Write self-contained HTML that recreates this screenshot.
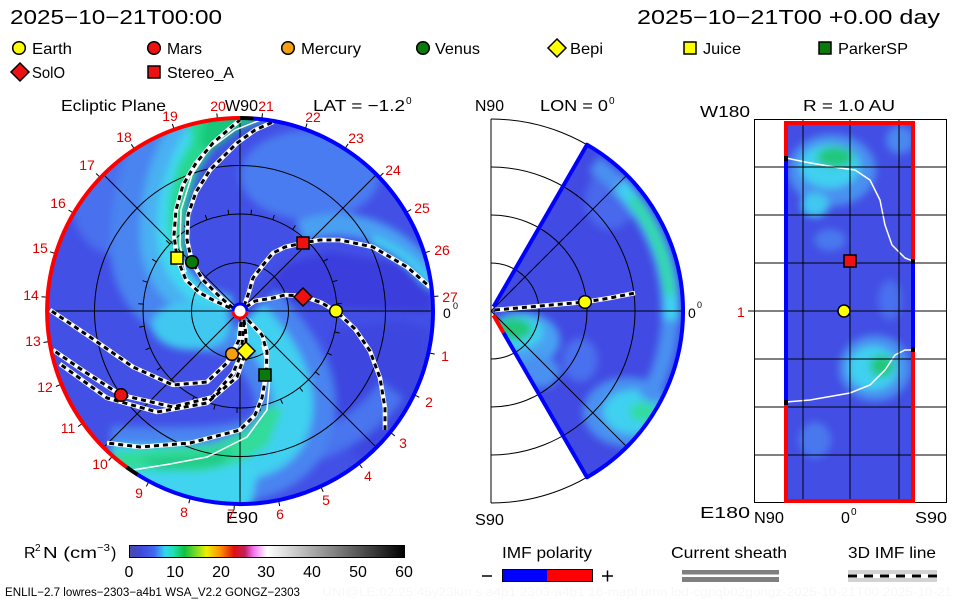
<!DOCTYPE html>
<html><head><meta charset="utf-8"><style>html,body{margin:0;padding:0;background:#fff}svg{display:block}</style></head>
<body>
<svg xmlns="http://www.w3.org/2000/svg" width="960" height="600" viewBox="0 0 960 600" font-family="'Liberation Sans', sans-serif">
<defs>
 <clipPath id="cL"><circle cx="240" cy="311" r="192"/></clipPath>
 <clipPath id="cM"><path d="M493.5 306.7 L587 144.7 A192 192 0 0 1 587 477.3 L493.5 315.3 Z"/></clipPath>
 <clipPath id="cR"><rect x="786" y="123" width="127" height="378"/></clipPath>
 <filter id="bl" x="-30%" y="-30%" width="160%" height="160%"><feGaussianBlur stdDeviation="4"/></filter>
 <linearGradient id="cb" x1="0" x2="1" y1="0" y2="0">
  <stop offset="0" stop-color="#4a4aa8"/>
  <stop offset="0.04" stop-color="#4048d8"/>
  <stop offset="0.09" stop-color="#4068f0"/>
  <stop offset="0.13" stop-color="#30d8f0"/>
  <stop offset="0.16" stop-color="#20e0b0"/>
  <stop offset="0.20" stop-color="#10c040"/>
  <stop offset="0.25" stop-color="#90e020"/>
  <stop offset="0.28" stop-color="#f0f000"/>
  <stop offset="0.33" stop-color="#ff9000"/>
  <stop offset="0.38" stop-color="#e01010"/>
  <stop offset="0.42" stop-color="#c02060"/>
  <stop offset="0.45" stop-color="#f070f0"/>
  <stop offset="0.50" stop-color="#ffffff"/>
  <stop offset="1" stop-color="#000000"/>
 </linearGradient>
</defs>
<rect width="960" height="600" fill="#fff"/>

<!-- Titles -->
<text x="10" y="24" font-size="20" textLength="212" lengthAdjust="spacingAndGlyphs">2025−10−21T00:00</text>
<text x="637" y="24" font-size="20" textLength="303" lengthAdjust="spacingAndGlyphs">2025−10−21T00 +0.00 day</text>

<!-- Legend -->
<g stroke="#000" stroke-width="1.5">
 <circle cx="19" cy="48" r="6.3" fill="#ffff00"/>
 <circle cx="154" cy="48" r="6.3" fill="#ee1111"/>
 <circle cx="288" cy="48" r="6.3" fill="#f5a010"/>
 <circle cx="423" cy="48" r="6.3" fill="#0a7a0a"/>
 <polygon points="557,39 566,48 557,57 548,48" fill="#ffff00"/>
 <rect x="684" y="42" width="12" height="12" fill="#ffff00"/>
 <rect x="819" y="42" width="12" height="12" fill="#0a7a0a"/>
 <polygon points="20,63 29,72 20,81 11,72" fill="#ee1111"/>
 <rect x="148" y="66" width="12" height="12" fill="#ee1111"/>
</g>
<g font-size="16">
 <text x="32" y="54" textLength="40" lengthAdjust="spacingAndGlyphs">Earth</text>
 <text x="167" y="54" textLength="35" lengthAdjust="spacingAndGlyphs">Mars</text>
 <text x="301" y="54" textLength="60" lengthAdjust="spacingAndGlyphs">Mercury</text>
 <text x="435" y="54" textLength="45" lengthAdjust="spacingAndGlyphs">Venus</text>
 <text x="570" y="54" textLength="33" lengthAdjust="spacingAndGlyphs">Bepi</text>
 <text x="703" y="54" textLength="38" lengthAdjust="spacingAndGlyphs">Juice</text>
 <text x="838" y="54" textLength="70" lengthAdjust="spacingAndGlyphs">ParkerSP</text>
 <text x="32" y="78" textLength="33" lengthAdjust="spacingAndGlyphs">SolO</text>
 <text x="167" y="78" textLength="67" lengthAdjust="spacingAndGlyphs">Stereo_A</text>
</g>

<!-- ================= LEFT PLOT ================= -->
<g clip-path="url(#cL)">
 <rect x="40" y="110" width="400" height="410" fill="#4250e6"/>
 <g filter="url(#bl)">
  <polygon points="258,300 285,265 330,252 400,264 432,292 432,312 340,308" fill="#3a3edc"/>
  <polygon points="330,330 400,320 432,330 425,420 380,470 330,440" fill="#3e46e0"/>
  <ellipse cx="310" cy="175" rx="70" ry="45" fill="#4a7cf0"/>
  <ellipse cx="115" cy="195" rx="45" ry="60" fill="#4870ee"/>
  <path d="M300 232 C340 216 390 224 432 278" stroke="#4aa0f2" stroke-width="22" fill="none"/>
  <path d="M372 240 C398 250 418 265 434 287" stroke="#40d0f0" stroke-width="9" fill="none"/>
  <path d="M300 452 C340 440 370 420 392 390" stroke="#4874ee" stroke-width="28" fill="none"/>
  <!-- upper arm -->
  <path d="M180 120 C150 160 140 205 140 245 C140 285 165 318 228 325" stroke="#4a84f0" stroke-width="60" fill="none"/>
  <path d="M195 120 C168 155 158 195 158 235 C158 270 178 300 228 314" stroke="#48b0f2" stroke-width="36" fill="none"/>
  <path d="M205 120 C182 150 168 190 167 228 C166 262 184 292 228 310" stroke="#40d8f0" stroke-width="20" fill="none"/>
  <ellipse cx="192" cy="326" rx="40" ry="24" fill="#40c8f0"/>
  <polygon points="188,120 272,116 240,128 215,145 198,170 188,200 184,235 186,258 176,255 168,225 170,195 178,165 192,140" fill="#28d890"/>
  <polygon points="205,116 258,116 235,132 212,150 200,145" fill="#18c878"/>
  <!-- lower arm -->
  <path d="M248 318 C275 345 305 385 292 425 S230 470 110 466" stroke="#4a84f0" stroke-width="80" fill="none"/>
  <path d="M248 318 C275 345 302 385 290 425 S230 468 110 464" stroke="#40d0f0" stroke-width="40" fill="none"/>
  <polygon points="110,452 160,448 215,444 250,428 268,405 282,410 268,445 230,468 180,476 125,474" fill="#30dc9a"/>
  <polygon points="120,470 200,472 245,462 258,470 250,510 170,510 120,495" fill="#40d4f0"/>
  <polygon points="140,458 200,455 235,448 220,466 160,470" fill="#20cc88"/>
 </g>
</g>

<!-- grid left -->
<g fill="none" stroke="#000" stroke-width="1">
 <circle cx="240" cy="311" r="48.5"/>
 <circle cx="240" cy="311" r="97"/>
 <circle cx="240" cy="311" r="145.5"/>
 <line x1="47" y1="311" x2="433" y2="311"/>
 <line x1="240" y1="118" x2="240" y2="504"/>
 <line x1="104" y1="175" x2="376" y2="447"/>
 <line x1="104" y1="447" x2="376" y2="175"/>
 <path d="M434.7 354.1L428.4 352.8M413.9 394.7L419.3 397.3M390.2 432.2L394.9 436.0M358.6 463.3L362.2 468.0M320.7 486.3L323.2 491.8M278.5 500.1L279.7 506.0M234.3 503.9L234.1 509.9M190.4 497.5L188.8 503.3M149.1 481.2L146.3 486.5M112.6 456.0L108.7 460.5M82.9 423.1L78.0 426.6M61.4 384.2L55.9 386.5M49.4 341.5L43.5 342.5M47.5 297.2L41.5 296.8M55.7 253.6L50.0 251.8M73.7 213.1L68.5 210.0M100.5 177.7L96.1 173.5M134.6 149.3L131.3 144.3M174.3 129.5L172.3 123.9M217.5 119.3L216.8 113.4M261.8 119.2L262.5 113.3M305.1 129.3L307.1 123.6M344.8 149.0L348.1 143.9M379.1 177.2L383.4 173.0M406.0 212.5L411.1 209.4M424.1 253.0L429.8 251.2M432.5 296.5L438.4 296.1"/>
 <path d="M334.7 332.0L339.6 333.1M327.4 353.1L331.9 355.2M315.5 371.9L319.4 375.1M299.6 387.5L302.7 391.5M280.5 399.1L282.6 403.7M259.3 406.1L260.3 411.0M237.1 408.0L237.0 413.0M215.1 404.7L213.8 409.6M194.3 396.6L192.0 401.0M176.0 383.9L172.7 387.6M161.0 367.3L157.0 370.2M150.3 347.8L145.6 349.7M144.2 326.3L139.3 327.1M143.3 304.1L138.3 303.7M147.4 282.2L142.6 280.7M156.4 261.8L152.1 259.2M169.9 244.0L166.3 240.5M187.0 229.7L184.3 225.6M207.0 219.8L205.3 215.1M228.7 214.7L228.1 209.7M251.0 214.6L251.5 209.7M272.7 219.7L274.4 215.0M292.7 229.6L295.4 225.4M309.9 243.7L313.5 240.3M323.4 261.5L327.7 258.9M332.5 281.8L337.3 280.3M336.7 303.7L341.7 303.4"/>
</g>

<!-- current sheath white lines left -->
<g fill="none" stroke="#fff" stroke-width="1.5">
 <polyline points="133,470 170,464 207,457 247,437 267,410 270,377 262,345"/>
 <polyline points="268,117 235,130 208,150 192,175 181,210 180,245 186,272"/>
</g>

<!-- dashed field lines left -->
<g fill="none" stroke-linejoin="round">
 <g stroke="#fff" stroke-width="4.5">
  <polyline points="246,307 255,301 273,298 285,295 303,296 322,303 337,312 355,329 370,351 380,378 385,408 385,430"/>
  <polyline points="244,306 248,295 253,278 263,265 273,253 285,247 303,243 320,240 340,240 373,247 407,267 430,287"/>
  <polyline points="230,308 213,300 200,293 186,280 177,258 174,235 176,210 183,185 196,163 213,143 228,130 240,120"/>
  <polyline points="233,308 220,297 203,280 192,262 187,240 188,215 196,192 210,170 225,155 237,143 255,130 273,122"/>
  <polyline points="241,322 239,340 232,354 227,363 207,382 173,385 133,367 90,337 50,310"/>
  <polyline points="244,322 242,345 240,357 233,373 213,397 173,407 121,395 85,372 53,350"/>
  <polyline points="244,320 246,335 246,351 237,377 207,403 157,412 107,398 60,364"/>
  <polyline points="248,320 262,335 267,352 266,375 262,398 255,415 240,430 190,443 140,447 107,443"/>
 </g>
 <g stroke="#000" stroke-width="3" stroke-dasharray="5 4">
  <polyline points="246,307 255,301 273,298 285,295 303,296 322,303 337,312 355,329 370,351 380,378 385,408 385,430"/>
  <polyline points="244,306 248,295 253,278 263,265 273,253 285,247 303,243 320,240 340,240 373,247 407,267 430,287"/>
  <polyline points="230,308 213,300 200,293 186,280 177,258 174,235 176,210 183,185 196,163 213,143 228,130 240,120"/>
  <polyline points="233,308 220,297 203,280 192,262 187,240 188,215 196,192 210,170 225,155 237,143 255,130 273,122"/>
  <polyline points="241,322 239,340 232,354 227,363 207,382 173,385 133,367 90,337 50,310"/>
  <polyline points="244,322 242,345 240,357 233,373 213,397 173,407 121,395 85,372 53,350"/>
  <polyline points="244,320 246,335 246,351 237,377 207,403 157,412 107,398 60,364"/>
  <polyline points="248,320 262,335 267,352 266,375 262,398 255,415 240,430 190,443 140,447 107,443"/>
 </g>
</g>

<!-- outline left -->
<g fill="none" stroke-width="4">
 <path d="M240 118 A193 193 0 0 0 126.6 467.1" stroke="#ff0000"/>
 <path d="M126.6 467.1 A193 193 0 0 0 137.7 474.7" stroke="#000"/>
 <path d="M137.7 474.7 A193 193 0 1 0 253.5 118.5" stroke="#0000ff"/>
 <path d="M253.5 118.5 A193 193 0 0 0 240 118" stroke="#000"/>
</g>

<!-- Sun -->
<circle cx="240" cy="311" r="7" fill="#fff"/>
<path d="M233 311 A7 7 0 0 1 247 311" fill="none" stroke="#0000ff" stroke-width="3"/>
<path d="M247 311 A7 7 0 0 1 233 311" fill="none" stroke="#ff0000" stroke-width="3"/>

<!-- markers left -->
<g stroke="#000" stroke-width="1.5">
 <rect x="297" y="237" width="12" height="12" fill="#ee1111"/>
 <polygon points="303,288 312,297 303,306 294,297" fill="#ee1111"/>
 <circle cx="336" cy="311" r="6.3" fill="#ffff00"/>
 <rect x="171" y="252" width="12" height="12" fill="#ffff00"/>
 <circle cx="192" cy="262" r="6.3" fill="#0a7a0a"/>
 <circle cx="232" cy="354" r="6.3" fill="#f5a010"/>
 <polygon points="246,342 255,351 246,360 237,351" fill="#ffff00"/>
 <rect x="259" y="369" width="12" height="12" fill="#0a7a0a"/>
 <circle cx="121" cy="395" r="6.3" fill="#ee1111"/>
</g>

<!-- labels left -->
<text x="61" y="111" font-size="16" textLength="105" lengthAdjust="spacingAndGlyphs">Ecliptic Plane</text>
<text x="225" y="111" font-size="16" textLength="33" lengthAdjust="spacingAndGlyphs">W90</text>
<text x="313" y="111" font-size="16" textLength="92" lengthAdjust="spacingAndGlyphs">LAT = −1.2</text>
<text x="406" y="104" font-size="10">0</text>
<text x="226" y="523" font-size="16" textLength="32" lengthAdjust="spacingAndGlyphs">E90</text>
<text x="443" y="318" font-size="14">0</text>
<text x="453" y="309" font-size="9">0</text>
<g font-size="14" fill="#dd0000" text-anchor="middle">
 <text x="445" y="361">1</text>
 <text x="429" y="407">2</text>
 <text x="403" y="448">3</text>
 <text x="368" y="481">4</text>
 <text x="326" y="505">5</text>
 <text x="280" y="519">6</text>
 <text x="231" y="519">7</text>
 <text x="184" y="517">8</text>
 <text x="139" y="498">9</text>
 <text x="100" y="469">10</text>
 <text x="68" y="433">11</text>
 <text x="45" y="392">12</text>
 <text x="33" y="346">13</text>
 <text x="31" y="300">14</text>
 <text x="40" y="253">15</text>
 <text x="58" y="208">16</text>
 <text x="87" y="170">17</text>
 <text x="124" y="142">18</text>
 <text x="170" y="121">19</text>
 <text x="218" y="111">20</text>
 <text x="266" y="111">21</text>
 <text x="313" y="122">22</text>
 <text x="356" y="143">23</text>
 <text x="393" y="175">24</text>
 <text x="422" y="213">25</text>
 <text x="442" y="255">26</text>
 <text x="450" y="302">27</text>
</g>

<!-- ================= MIDDLE PLOT ================= -->
<g clip-path="url(#cM)">
 <rect x="480" y="110" width="220" height="400" fill="#414ae2"/>
 <g filter="url(#bl)">
  <ellipse cx="522" cy="340" rx="38" ry="28" fill="#48a0f2"/>
  <ellipse cx="517" cy="332" rx="26" ry="17" fill="#40d0f0"/>
  <ellipse cx="514" cy="329" rx="18" ry="11" fill="#20c878"/>
  <ellipse cx="540" cy="372" rx="20" ry="16" fill="#4890f0"/>
  <ellipse cx="580" cy="360" rx="18" ry="22" fill="#4870ee"/>
  <ellipse cx="628" cy="412" rx="45" ry="35" fill="#4890f0"/>
  <ellipse cx="633" cy="412" rx="30" ry="22" fill="#40d0f0"/>
  <ellipse cx="643" cy="412" rx="13" ry="10" fill="#30dca0"/>
  <ellipse cx="610" cy="200" rx="25" ry="30" fill="#4868ec"/>
  <path d="M647 400 A180 180 0 0 0 594 164" stroke="#4890f0" stroke-width="18" fill="none"/>
  <path d="M671 320 A180 180 0 0 0 620 185" stroke="#40d0f0" stroke-width="16" fill="none"/>
  <path d="M670 295 A180 180 0 0 0 632 198" stroke="#30d8a0" stroke-width="10" fill="none"/>
 </g>
</g>
<g fill="none" stroke="#000" stroke-width="1">
 <path d="M491 263 A48 48 0 0 1 491 359"/>
 <path d="M491 215 A96 96 0 0 1 491 407"/>
 <path d="M491 167 A144 144 0 0 1 491 455"/>
 <path d="M491 119 A192 192 0 0 1 491 503"/>
 <line x1="491" y1="119" x2="491" y2="503"/>
 <line x1="491" y1="311" x2="683" y2="311"/>
 <line x1="491" y1="311" x2="626.8" y2="175.2"/>
 <line x1="491" y1="311" x2="626.8" y2="446.8"/>
</g>
<path d="M493.5 306.7 L587 144.7 A192 192 0 0 1 587 477.3 L503.5 332.7" fill="none" stroke="#0000ff" stroke-width="4" stroke-linejoin="round"/>
<path d="M503.5 332.7 L493.5 315.3" fill="none" stroke="#ff0000" stroke-width="4"/>
<polyline points="495,310 540,306 585,302 610,298 635,293" fill="none" stroke="#fff" stroke-width="4.5"/>
<polyline points="495,310 540,306 585,302 610,298 635,293" fill="none" stroke="#000" stroke-width="3" stroke-dasharray="5 4"/>
<circle cx="585" cy="302" r="6.3" fill="#ffff00" stroke="#000" stroke-width="1.5"/>
<text x="475" y="111" font-size="16" textLength="29" lengthAdjust="spacingAndGlyphs">N90</text>
<text x="540" y="111" font-size="16" textLength="68" lengthAdjust="spacingAndGlyphs">LON = 0</text>
<text x="609" y="104" font-size="10">0</text>
<text x="475" y="525" font-size="16" textLength="29" lengthAdjust="spacingAndGlyphs">S90</text>
<text x="688" y="318" font-size="14">0</text>
<text x="697" y="308" font-size="9">0</text>

<!-- ================= RIGHT PLOT ================= -->
<g clip-path="url(#cR)">
 <rect x="780" y="118" width="140" height="390" fill="#424ee4"/>
 <g filter="url(#bl)">
  <ellipse cx="832" cy="170" rx="44" ry="36" fill="#4890f0"/>
  <ellipse cx="830" cy="166" rx="30" ry="22" fill="#40d0f0"/>
  <ellipse cx="835" cy="157" rx="18" ry="10" fill="#20c878"/>
  <ellipse cx="815" cy="205" rx="14" ry="12" fill="#40c8f0"/>
  <ellipse cx="900" cy="140" rx="14" ry="14" fill="#4a88f0"/>
  <ellipse cx="875" cy="368" rx="36" ry="33" fill="#4890f0"/>
  <ellipse cx="873" cy="368" rx="25" ry="22" fill="#40d0f0"/>
  <ellipse cx="882" cy="366" rx="12" ry="11" fill="#20c878"/>
  <ellipse cx="815" cy="440" rx="16" ry="18" fill="#4878ee"/>
  <ellipse cx="890" cy="300" rx="12" ry="20" fill="#4870ee"/>
  <ellipse cx="830" cy="240" rx="16" ry="11" fill="#4a78ee"/>
 </g>
 <polyline points="786,158 805,162 840,168 855,170 870,180 880,200 885,225 892,245 905,258 913,261" fill="none" stroke="#fff" stroke-width="1.5"/>
 <polyline points="786,402 810,400 850,393 870,385 885,370 895,355 905,350 913,350" fill="none" stroke="#fff" stroke-width="1.5"/>
</g>
<g fill="none" stroke="#000" stroke-width="1">
 <rect x="754.5" y="119.5" width="192" height="383"/>
 <line x1="803" y1="119" x2="803" y2="503"/>
 <line x1="850" y1="119" x2="850" y2="503"/>
 <line x1="899" y1="119" x2="899" y2="503"/>
 <line x1="754" y1="167" x2="947" y2="167"/>
 <line x1="754" y1="215" x2="947" y2="215"/>
 <line x1="754" y1="263" x2="947" y2="263"/>
 <line x1="748" y1="311" x2="947" y2="311"/>
 <line x1="754" y1="359" x2="947" y2="359"/>
 <line x1="754" y1="407" x2="947" y2="407"/>
 <line x1="754" y1="455" x2="947" y2="455"/>
</g>
<g fill="none" stroke-width="4">
 <path d="M786 158 L786 123 L913 123 L913 261" stroke="#ff0000"/>
 <path d="M913 350 L913 501 L786 501 L786 402" stroke="#ff0000"/>
 <path d="M786 160 L786 400" stroke="#0000ff"/>
 <path d="M913 263 L913 348" stroke="#0000ff"/>
 <path d="M786 156 L786 161 M786 400 L786 405 M913 259 L913 264 M913 347 L913 352" stroke="#000"/>
</g>
<rect x="844" y="255" width="12" height="12" fill="#ee1111" stroke="#000" stroke-width="1.5"/>
<circle cx="844" cy="311" r="6" fill="#ffff00" stroke="#000" stroke-width="1.5"/>
<text x="803" y="111" font-size="16" textLength="92" lengthAdjust="spacingAndGlyphs">R = 1.0 AU</text>
<text x="700" y="117" font-size="16" textLength="50" lengthAdjust="spacingAndGlyphs">W180</text>
<text x="700" y="518" font-size="16" textLength="50" lengthAdjust="spacingAndGlyphs">E180</text>
<text x="754" y="523" font-size="16" textLength="30" lengthAdjust="spacingAndGlyphs">N90</text>
<text x="841" y="523" font-size="16">0</text>
<text x="851" y="515" font-size="10">0</text>
<text x="915" y="523" font-size="16" textLength="32" lengthAdjust="spacingAndGlyphs">S90</text>
<text x="737" y="317" font-size="14" fill="#dd0000">1</text>

<!-- ================= BOTTOM ================= -->
<text x="24" y="558" font-size="16">R</text>
<text x="35" y="551" font-size="10">2</text>
<text x="43" y="558" font-size="16" textLength="54" lengthAdjust="spacingAndGlyphs">N (cm</text>
<text x="97" y="551" font-size="10" textLength="13" lengthAdjust="spacingAndGlyphs">−3</text>
<text x="111" y="558" font-size="16">)</text>
<rect x="129.5" y="545.5" width="275" height="12" fill="url(#cb)" stroke="#000" stroke-width="1"/>
<g font-size="16" text-anchor="middle">
 <text x="129" y="577">0</text>
 <text x="175" y="577">10</text>
 <text x="221" y="577">20</text>
 <text x="266" y="577">30</text>
 <text x="312" y="577">40</text>
 <text x="358" y="577">50</text>
 <text x="404" y="577">60</text>
</g>
<text x="5" y="596" font-size="11.5" textLength="295" lengthAdjust="spacingAndGlyphs">ENLIL−2.7 lowres−2303−a4b1 WSA_V2.2 GONGZ−2303</text>
<text x="322" y="596" font-size="11.5" fill="#f7f7f7" textLength="630" lengthAdjust="spacingAndGlyphs">UNI@LE:02:25:45y23km s a4b1 2303-a4b1 16-mapl umn lod-cgpqb02gongz-2025-10-21T00 2025-10-21</text>

<text x="502" y="558" font-size="16" textLength="90" lengthAdjust="spacingAndGlyphs">IMF polarity</text>
<line x1="482" y1="576" x2="492" y2="576" stroke="#000" stroke-width="1.5"/>
<rect x="502" y="569" width="45" height="13" fill="#0000ff"/>
<rect x="547" y="569" width="46" height="13" fill="#ff0000"/>
<rect x="502.5" y="569.5" width="90" height="12" fill="none" stroke="#000" stroke-width="1"/>
<line x1="602" y1="576" x2="613" y2="576" stroke="#000" stroke-width="1.5"/>
<line x1="607.5" y1="570.5" x2="607.5" y2="581.5" stroke="#000" stroke-width="1.5"/>

<text x="671" y="558" font-size="16" textLength="116" lengthAdjust="spacingAndGlyphs">Current sheath</text>
<rect x="682" y="570" width="97" height="4.5" fill="#808080"/>
<rect x="682" y="577" width="97" height="5" fill="#808080"/>

<text x="848" y="558" font-size="16" textLength="88" lengthAdjust="spacingAndGlyphs">3D IMF line</text>
<rect x="848" y="570" width="89" height="12" fill="#d3d3d3"/>
<line x1="848" y1="576" x2="937" y2="576" stroke="#fff" stroke-width="4"/>
<line x1="848" y1="576" x2="937" y2="576" stroke="#000" stroke-width="3" stroke-dasharray="9 7"/>
</svg>
</body></html>
